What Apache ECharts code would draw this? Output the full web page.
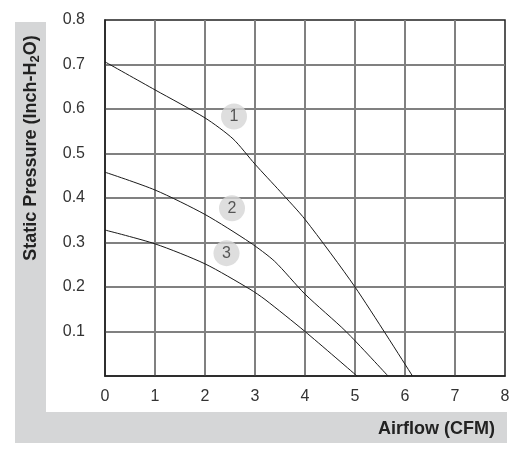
<!DOCTYPE html>
<html>
<head>
<meta charset="utf-8">
<script src="https://cdn.jsdelivr.net/npm/echarts@6/dist/echarts.min.js"></script>
<style>
  html, body { margin: 0; padding: 0; background: #fff; }
  #chart { width: 517px; height: 456px; }
</style>
</head>
<body>
<div id="chart"></div>
<script>
// 曲线数据 (Airflow CFM, Static Pressure inch-H2O)
const curve1 = [[0, 0.706], [1, 0.643], [2, 0.58], [2.56, 0.533], [3, 0.476], [3.5, 0.415], [4, 0.352], [5, 0.2], [6.15, 0]];
const curve2 = [[0, 0.458], [1, 0.418], [2, 0.363], [2.9, 0.3], [3.39, 0.258], [4, 0.184], [4.82, 0.1], [5.66, 0]];
const curve3 = [[0, 0.328], [1, 0.297], [2, 0.252], [2.9, 0.195], [3.2, 0.172], [4, 0.1], [5.04, 0]];
// 圆形编号标记
const markerPoints = [[2.58, 0.583, '1'], [2.54, 0.377, '2'], [2.43, 0.276, '3']];
const xTicks = [0, 1, 2, 3, 4, 5, 6, 7, 8];
const yTicks = [0.1, 0.2, 0.3, 0.4, 0.5, 0.6, 0.7, 0.8];

const FONT = 'Liberation Sans, Arial, sans-serif';
const myChart = echarts.init(document.getElementById('chart'));

function lineSeries(data) {
  return {
    type: 'line',
    data: data,
    smooth: 0.25,
    showSymbol: false,
    lineStyle: { color: '#1a1a1a', width: 1 },
    z: 3
  };
}

myChart.setOption({
  animation: false,
  textStyle: { fontFamily: FONT },
  grid: {
    left: 105, right: 12, top: 20, bottom: 80,
    show: true, borderColor: '#222', borderWidth: 1.5, backgroundColor: 'transparent'
  },
  graphic: [
    { type: 'rect', shape: { x: 15, y: 22, width: 31, height: 421 }, style: { fill: '#d5d6d7' }, z: -10 },
    { type: 'rect', shape: { x: 15, y: 412, width: 492, height: 31 }, style: { fill: '#d5d6d7' }, z: -10 },
    {
      type: 'text', x: 31, y: 148, rotation: Math.PI / 2,
      style: {
        text: '{a|Static Pressure (Inch-H}{s|2}{a|O)}',
        align: 'center', verticalAlign: 'middle',
        rich: {
          a: { fontSize: 18, fontWeight: 'bold', fill: '#222', fontFamily: FONT },
          s: { fontSize: 13, fontWeight: 'bold', fill: '#222', fontFamily: FONT, padding: [8, 0, 0, 0] }
        }
      },
      z: 10
    },
    {
      type: 'text', x: 495, y: 429,
      style: {
        text: 'Airflow (CFM)', align: 'right', verticalAlign: 'middle',
        fontSize: 18, fontWeight: 'bold', fill: '#222', fontFamily: FONT
      },
      z: 10
    }
  ],
  xAxis: {
    type: 'value', min: 0, max: 8, interval: 1,
    axisLine: { show: true, lineStyle: { color: '#222', width: 1.5 } },
    axisTick: { show: false },
    axisLabel: {
      margin: 13, fontSize: 16, color: '#333',
      formatter: v => xTicks.includes(v) ? String(v) : ''
    },
    splitLine: { show: true, showMinLine: false, showMaxLine: false, lineStyle: { color: '#808080', width: 2 } }
  },
  yAxis: {
    type: 'value', min: 0, max: 0.8, interval: 0.1,
    axisLine: { show: true, lineStyle: { color: '#222', width: 1.5 } },
    axisTick: { show: false },
    axisLabel: {
      margin: 20, fontSize: 16, color: '#333',
      formatter: v => {
        const r = Math.round(v * 10) / 10;
        return yTicks.includes(r) ? r.toFixed(1) : '';
      }
    },
    splitLine: { show: true, showMinLine: false, showMaxLine: false, lineStyle: { color: '#808080', width: 2 } }
  },
  series: [
    lineSeries(curve1),
    lineSeries(curve2),
    lineSeries(curve3),
    {
      type: 'scatter',
      data: markerPoints,
      symbol: 'circle',
      symbolSize: 26,
      itemStyle: { color: '#d6d6d6' },
      label: {
        show: true, position: 'inside', fontSize: 16, color: '#333',
        formatter: p => p.data[2]
      },
      z: 4
    }
  ]
});
</script>
</body>
</html>
